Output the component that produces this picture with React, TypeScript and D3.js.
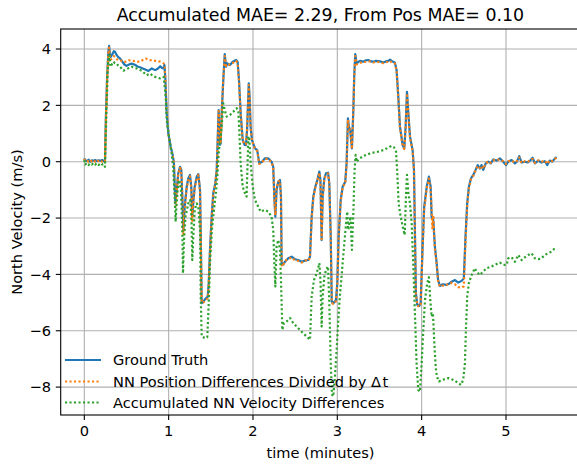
import React from "react";
import * as d3 from "d3";

const TITLE = "Accumulated MAE= 2.29, From Pos MAE= 0.10";
const X_LABEL = "time (minutes)";
const Y_LABEL = "North Velocity (m/s)";
const X_TICKS = [0, 1, 2, 3, 4, 5];
const Y_TICKS = [-8, -6, -4, -2, 0, 2, 4];
const SERIES_NAMES = [
  "Ground Truth",
  "NN Position Differences Divided by ",
  "Accumulated NN Velocity Differences",
];

const groundTruth: [number, number][] = [
  [0.0,0.12],[0.01,0.05],[0.03,0.02],[0.05,0.07],[0.07,0.0],[0.09,0.05],[0.11,0.03],[0.13,0.06],[0.15,0.02],[0.17,0.05],[0.19,0.03],[0.21,0.06],[0.23,0.02],[0.245,0.05],[0.255,1.5],[0.27,3.0],[0.285,3.9],[0.294,4.11],[0.303,3.85],[0.313,3.72],[0.33,3.8],[0.35,3.92],[0.364,3.9],[0.38,3.8],[0.4,3.72],[0.423,3.67],[0.45,3.55],[0.475,3.45],[0.5,3.4],[0.53,3.45],[0.56,3.48],[0.6,3.44],[0.63,3.38],[0.66,3.35],[0.7,3.3],[0.73,3.26],[0.76,3.22],[0.8,3.31],[0.84,3.25],[0.87,3.3],[0.9,3.39],[0.92,3.33],[0.94,3.31],[0.95,3.43],[0.96,3.0],[0.977,1.72],[0.996,1.0],[1.024,0.53],[1.048,0.24],[1.063,-0.06],[1.079,-1.48],[1.095,-1.0],[1.114,-0.41],[1.135,-0.18],[1.15,-0.29],[1.162,-1.24],[1.174,-2.42],[1.19,-1.6],[1.214,-0.89],[1.233,-0.59],[1.253,-0.47],[1.268,-0.89],[1.28,-1.95],[1.293,-1.4],[1.309,-0.89],[1.333,-0.53],[1.352,-0.44],[1.372,-1.0],[1.38,-2.42],[1.392,-5.02],[1.411,-4.96],[1.443,-4.84],[1.463,-4.79],[1.475,-4.31],[1.49,-3.13],[1.51,-1.95],[1.529,-1.12],[1.553,-0.77],[1.57,-0.29],[1.585,1.12],[1.593,1.83],[1.6,1.12],[1.608,0.6],[1.617,0.65],[1.629,1.72],[1.648,2.9],[1.665,3.82],[1.68,3.37],[1.695,3.49],[1.727,3.43],[1.76,3.55],[1.8,3.61],[1.818,3.55],[1.834,2.9],[1.854,1.72],[1.878,0.77],[1.9,0.6],[1.917,0.59],[1.93,1.12],[1.95,2.78],[1.96,2.3],[1.972,1.24],[1.988,0.77],[2.024,0.47],[2.05,0.41],[2.075,-0.06],[2.107,0.0],[2.142,0.12],[2.18,0.12],[2.22,0.0],[2.24,-0.18],[2.253,-1.24],[2.265,-1.95],[2.28,-1.0],[2.3,-0.71],[2.32,-0.65],[2.332,-1.24],[2.34,-3.6],[2.352,-3.66],[2.38,-3.55],[2.418,-3.43],[2.458,-3.37],[2.498,-3.46],[2.537,-3.49],[2.577,-3.55],[2.616,-3.51],[2.656,-3.49],[2.676,-3.37],[2.696,-1.95],[2.715,-1.24],[2.739,-0.89],[2.763,-0.65],[2.787,-0.35],[2.8,-0.65],[2.814,-2.78],[2.826,-1.24],[2.846,-0.59],[2.866,-0.41],[2.89,-0.39],[2.905,-0.77],[2.922,-2.66],[2.934,-4.96],[2.952,-5.02],[2.972,-4.96],[2.984,-4.9],[3.0,-4.31],[3.016,-2.66],[3.04,-1.36],[3.063,-0.89],[3.094,-0.71],[3.11,-0.06],[3.126,1.54],[3.138,1.24],[3.153,1.12],[3.173,0.47],[3.19,1.83],[3.2,3.01],[3.213,3.82],[3.229,3.49],[3.268,3.58],[3.308,3.55],[3.34,3.6],[3.367,3.61],[3.4,3.56],[3.426,3.55],[3.46,3.58],[3.486,3.57],[3.52,3.55],[3.545,3.52],[3.575,3.56],[3.604,3.58],[3.625,3.62],[3.644,3.58],[3.683,3.51],[3.703,3.25],[3.723,2.3],[3.743,1.24],[3.775,0.59],[3.794,0.47],[3.81,1.24],[3.826,2.48],[3.842,1.72],[3.862,0.89],[3.893,0.41],[3.909,-0.29],[3.92,-2.42],[3.932,-4.67],[3.948,-5.08],[3.972,-5.12],[3.988,-5.02],[4.007,-3.37],[4.03,-1.6],[4.06,-0.89],[4.086,-0.53],[4.107,-0.89],[4.118,-1.95],[4.138,-2.07],[4.157,-3.01],[4.178,-3.6],[4.195,-4.2],[4.216,-4.41],[4.25,-4.35],[4.296,-4.37],[4.33,-4.32],[4.355,-4.26],[4.395,-4.2],[4.434,-4.29],[4.474,-4.23],[4.5,-4.14],[4.52,-2.66],[4.54,-1.48],[4.56,-0.89],[4.585,-0.59],[4.612,-0.47],[4.64,-0.29],[4.664,-0.12],[4.69,-0.24],[4.71,-0.12],[4.73,-0.29],[4.76,-0.06],[4.79,0.0],[4.82,-0.06],[4.85,0.08],[4.89,0.04],[4.928,0.12],[4.967,0.0],[5.0,-0.12],[5.027,0.0],[5.067,0.06],[5.106,-0.06],[5.13,0.0],[5.157,0.2],[5.186,-0.03],[5.225,0.0],[5.26,-0.03],[5.29,0.05],[5.316,0.14],[5.343,-0.06],[5.382,0.04],[5.42,-0.03],[5.46,0.02],[5.49,-0.12],[5.52,0.04],[5.55,0.0],[5.58,0.12],[5.6,0.16],
];

const fromPosition: [number, number][] = [
  [0.0,0.1],[0.01,0.02],[0.03,0.05],[0.05,0.0],[0.07,0.06],[0.09,0.01],[0.11,0.05],[0.13,0.0],[0.15,0.06],[0.17,0.02],[0.19,0.05],[0.21,0.0],[0.23,0.05],[0.245,0.02],[0.255,1.4],[0.27,2.9],[0.285,3.85],[0.294,4.05],[0.303,3.7],[0.313,3.62],[0.33,3.68],[0.35,3.75],[0.364,3.72],[0.38,3.66],[0.4,3.6],[0.423,3.61],[0.45,3.56],[0.475,3.54],[0.5,3.55],[0.53,3.6],[0.56,3.58],[0.6,3.57],[0.63,3.55],[0.66,3.55],[0.7,3.62],[0.73,3.66],[0.76,3.61],[0.8,3.6],[0.84,3.58],[0.87,3.57],[0.9,3.55],[0.92,3.52],[0.94,3.49],[0.95,3.45],[0.96,3.0],[0.977,1.75],[0.996,1.02],[1.024,0.5],[1.048,0.2],[1.063,-0.1],[1.079,-1.6],[1.095,-1.05],[1.114,-0.45],[1.135,-0.22],[1.15,-0.35],[1.162,-1.3],[1.174,-2.6],[1.19,-1.7],[1.214,-0.95],[1.233,-0.65],[1.253,-0.52],[1.268,-0.95],[1.28,-2.1],[1.293,-1.45],[1.309,-0.95],[1.333,-0.58],[1.352,-0.48],[1.372,-1.05],[1.38,-2.5],[1.392,-5.0],[1.411,-5.0],[1.443,-4.9],[1.463,-4.85],[1.475,-4.4],[1.49,-3.2],[1.51,-2.0],[1.529,-1.18],[1.553,-0.8],[1.57,-0.3],[1.585,1.05],[1.593,1.8],[1.6,1.1],[1.608,0.62],[1.617,0.7],[1.629,1.75],[1.648,2.95],[1.665,3.75],[1.68,3.4],[1.695,3.45],[1.727,3.45],[1.76,3.5],[1.8,3.58],[1.818,3.5],[1.834,2.85],[1.854,1.7],[1.878,0.75],[1.9,0.62],[1.917,0.62],[1.93,1.15],[1.95,2.72],[1.96,2.25],[1.972,1.2],[1.988,0.75],[2.024,0.45],[2.05,0.38],[2.075,-0.08],[2.107,-0.02],[2.142,0.1],[2.18,0.1],[2.22,-0.02],[2.24,-0.2],[2.253,-1.3],[2.265,-1.9],[2.28,-0.95],[2.3,-0.7],[2.32,-0.68],[2.332,-1.3],[2.34,-3.65],[2.352,-3.72],[2.38,-3.52],[2.418,-3.45],[2.458,-3.4],[2.498,-3.5],[2.537,-3.52],[2.577,-3.58],[2.616,-3.5],[2.656,-3.52],[2.676,-3.4],[2.696,-2.0],[2.715,-1.3],[2.739,-0.92],[2.763,-0.68],[2.787,-0.4],[2.8,-0.7],[2.814,-2.75],[2.826,-1.3],[2.846,-0.62],[2.866,-0.45],[2.89,-0.42],[2.905,-0.8],[2.922,-2.7],[2.934,-5.0],[2.952,-5.05],[2.972,-5.0],[2.984,-4.95],[3.0,-4.35],[3.016,-2.7],[3.04,-1.4],[3.063,-0.92],[3.094,-0.75],[3.11,-0.1],[3.126,1.5],[3.138,1.2],[3.153,1.1],[3.173,0.45],[3.19,1.8],[3.2,2.95],[3.213,3.75],[3.229,3.45],[3.268,3.52],[3.308,3.52],[3.34,3.55],[3.367,3.57],[3.4,3.55],[3.426,3.52],[3.46,3.55],[3.486,3.54],[3.52,3.52],[3.545,3.5],[3.575,3.53],[3.604,3.55],[3.625,3.58],[3.644,3.52],[3.683,3.48],[3.703,3.2],[3.723,2.25],[3.743,1.2],[3.775,0.55],[3.794,0.45],[3.81,1.2],[3.826,2.42],[3.842,1.7],[3.862,0.85],[3.893,0.38],[3.909,-0.32],[3.92,-2.5],[3.932,-4.7],[3.948,-5.1],[3.972,-5.15],[3.988,-5.05],[4.007,-3.45],[4.03,-1.7],[4.06,-0.95],[4.086,-0.6],[4.107,-1.0],[4.118,-1.7],[4.128,-2.4],[4.138,-1.9],[4.148,-2.6],[4.157,-3.1],[4.178,-3.65],[4.195,-4.25],[4.216,-4.43],[4.25,-4.4],[4.296,-4.37],[4.33,-4.33],[4.355,-4.3],[4.395,-4.35],[4.434,-4.45],[4.474,-4.47],[4.5,-4.42],[4.52,-2.8],[4.54,-1.55],[4.56,-0.95],[4.585,-0.62],[4.612,-0.5],[4.64,-0.3],[4.664,-0.15],[4.69,-0.22],[4.71,-0.15],[4.73,-0.25],[4.76,-0.08],[4.79,0.02],[4.82,-0.04],[4.85,0.05],[4.89,0.06],[4.928,0.08],[4.967,0.02],[5.0,-0.08],[5.027,0.02],[5.067,0.04],[5.106,-0.03],[5.13,0.02],[5.157,0.15],[5.186,-0.05],[5.225,0.02],[5.26,0.0],[5.29,0.06],[5.316,0.1],[5.343,-0.04],[5.382,0.05],[5.42,0.0],[5.46,0.04],[5.49,-0.08],[5.52,0.05],[5.55,0.02],[5.58,0.1],[5.6,0.14],
];

const accumulated: [number, number][] = [
  [0.0,0.06],[0.01,-0.1],[0.03,-0.05],[0.05,-0.12],[0.07,-0.06],[0.09,-0.1],[0.11,-0.04],[0.13,-0.1],[0.15,-0.06],[0.17,-0.12],[0.19,-0.05],[0.21,-0.1],[0.23,-0.08],[0.245,-0.18],[0.26,1.5],[0.275,3.0],[0.284,3.49],[0.297,3.78],[0.31,3.37],[0.325,3.45],[0.343,3.55],[0.364,3.5],[0.384,3.49],[0.4,3.42],[0.423,3.37],[0.445,3.3],[0.463,3.23],[0.5,3.28],[0.53,3.33],[0.56,3.37],[0.59,3.34],[0.62,3.31],[0.65,3.27],[0.68,3.23],[0.71,3.15],[0.74,3.07],[0.78,3.13],[0.81,3.05],[0.84,3.01],[0.87,2.98],[0.9,2.96],[0.92,2.99],[0.94,3.01],[0.955,2.6],[0.965,2.3],[0.977,1.48],[1.01,0.77],[1.036,0.3],[1.056,-0.29],[1.072,-1.24],[1.083,-2.13],[1.095,-1.48],[1.11,-0.89],[1.126,-0.65],[1.146,-1.0],[1.162,-2.42],[1.17,-3.96],[1.18,-2.9],[1.2,-1.95],[1.233,-1.48],[1.256,-1.36],[1.27,-1.95],[1.28,-3.49],[1.292,-2.66],[1.309,-1.71],[1.333,-1.48],[1.352,-1.6],[1.372,-2.42],[1.38,-4.79],[1.392,-6.2],[1.43,-6.26],[1.458,-6.23],[1.475,-5.02],[1.49,-3.6],[1.513,-2.42],[1.537,-1.71],[1.56,-1.12],[1.577,-0.53],[1.596,0.41],[1.612,0.77],[1.629,1.24],[1.648,2.07],[1.665,1.83],[1.688,1.6],[1.727,1.66],[1.766,1.77],[1.806,1.9],[1.826,1.83],[1.838,1.12],[1.854,-0.06],[1.878,-0.89],[1.905,-1.12],[1.924,-1.24],[1.945,0.9],[1.956,0.8],[1.972,-0.06],[1.997,-0.89],[2.024,-1.36],[2.063,-1.6],[2.09,-1.77],[2.142,-1.71],[2.18,-1.77],[2.22,-1.95],[2.24,-2.42],[2.253,-3.6],[2.265,-4.43],[2.28,-3.01],[2.3,-2.78],[2.32,-3.13],[2.332,-4.2],[2.348,-5.97],[2.367,-5.73],[2.4,-5.67],[2.44,-5.55],[2.478,-5.73],[2.537,-5.91],[2.596,-6.09],[2.656,-6.26],[2.676,-6.32],[2.696,-4.79],[2.723,-4.2],[2.755,-3.96],[2.787,-3.6],[2.8,-4.2],[2.814,-5.85],[2.826,-4.79],[2.846,-4.08],[2.866,-3.84],[2.89,-3.72],[2.905,-5.02],[2.922,-7.15],[2.937,-8.27],[2.952,-8.33],[2.972,-7.62],[2.992,-6.68],[3.01,-5.73],[3.03,-4.79],[3.063,-3.6],[3.09,-2.66],[3.118,-1.77],[3.13,-2.42],[3.142,-2.19],[3.158,-1.95],[3.173,-3.13],[3.19,-1.83],[3.205,-0.29],[3.217,0.24],[3.229,0.0],[3.268,0.12],[3.308,0.2],[3.367,0.27],[3.426,0.32],[3.486,0.36],[3.545,0.41],[3.604,0.5],[3.644,0.56],[3.672,0.51],[3.696,0.36],[3.711,-0.41],[3.727,-1.48],[3.751,-1.95],[3.775,-2.3],[3.799,-2.6],[3.814,-1.24],[3.826,-0.47],[3.842,-1.12],[3.862,-1.48],[3.881,-2.19],[3.9,-3.6],[3.92,-5.38],[3.94,-7.15],[3.96,-8.1],[3.98,-8.16],[4.0,-7.15],[4.02,-5.97],[4.04,-4.9],[4.066,-4.31],[4.086,-4.1],[4.1,-4.79],[4.118,-5.5],[4.134,-5.38],[4.15,-6.44],[4.166,-7.27],[4.18,-7.62],[4.206,-7.8],[4.237,-7.74],[4.276,-7.72],[4.316,-7.68],[4.355,-7.72],[4.395,-7.77],[4.434,-7.86],[4.466,-7.92],[4.493,-7.74],[4.513,-7.15],[4.525,-5.97],[4.54,-4.79],[4.56,-4.31],[4.593,-4.02],[4.63,-3.78],[4.652,-3.9],[4.69,-4.02],[4.73,-3.9],[4.77,-3.78],[4.83,-3.72],[4.89,-3.63],[4.928,-3.58],[4.967,-3.66],[5.008,-3.66],[5.027,-3.43],[5.067,-3.39],[5.106,-3.55],[5.145,-3.31],[5.186,-3.49],[5.225,-3.39],[5.264,-3.31],[5.304,-3.25],[5.343,-3.43],[5.382,-3.46],[5.42,-3.43],[5.46,-3.31],[5.5,-3.25],[5.54,-3.19],[5.57,-3.1],[5.6,-3.07],
];

const COLORS = ["#1f77b4", "#ff7f0e", "#2ca02c"];
const FONT = "'DejaVu Sans', sans-serif";

export default function App() {
  const W = 577, H = 464;
  const left = 60.7, right = 580.2, top = 29, bottom = 415;
  const x = d3.scaleLinear().domain([-0.28, 5.88]).range([left, right]);
  const y = d3.scaleLinear().domain([-8.99, 4.71]).range([bottom, top]);
  const line = d3.line<[number, number]>().x((d) => x(d[0])).y((d) => y(d[1]));
  const series = [groundTruth, fromPosition, accumulated];
  const dash = [null, "2.1 2.4", "2.1 2.4"];
  const legendY = [360, 381.5, 402.5];
  const FS = 14.6;

  return (
    <svg width={W} height={H} style={{ position: "absolute", left: 0, top: 0, background: "#fff" }} fontFamily={FONT}>
      <rect x={0} y={0} width={W} height={H} fill="#fff" />
      <defs>
        <clipPath id="plotclip">
          <rect x={left} y={top} width={right - left} height={bottom - top} />
        </clipPath>
      </defs>
      <g stroke="#b0b0b0" strokeWidth={1.1}>
        {X_TICKS.map((t) => (
          <line key={"gx" + t} x1={x(t)} x2={x(t)} y1={top} y2={bottom} />
        ))}
        {Y_TICKS.map((t) => (
          <line key={"gy" + t} x1={left} x2={right} y1={y(t)} y2={y(t)} />
        ))}
      </g>
      <g clipPath="url(#plotclip)" fill="none">
        {series.map((s, i) => (
          <path
            key={"s" + i}
            d={line(s) || ""}
            stroke={COLORS[i]}
            strokeWidth={2.2}
            strokeDasharray={dash[i] || undefined}
            strokeLinejoin="round"
          />
        ))}
      </g>
      <rect x={left} y={top} width={right - left} height={bottom - top} fill="none" stroke="#000" strokeWidth={1.1} />
      <g stroke="#000" strokeWidth={1.1}>
        {X_TICKS.map((t) => (
          <line key={"tx" + t} x1={x(t)} x2={x(t)} y1={bottom} y2={bottom + 4.9} />
        ))}
        {Y_TICKS.map((t) => (
          <line key={"ty" + t} x1={left} x2={left - 4.9} y1={y(t)} y2={y(t)} />
        ))}
      </g>
      <g fontSize={FS} fill="#000">
        {X_TICKS.map((t) => (
          <text key={"lx" + t} x={x(t)} y={436} textAnchor="middle">{String(t)}</text>
        ))}
        {Y_TICKS.map((t) => (
          <text key={"ly" + t} x={51} y={y(t) + 5.2} textAnchor="end">{t < 0 ? "\u2212" + Math.abs(t) : String(t)}</text>
        ))}
        <text x={(left + right) / 2} y={457.5} textAnchor="middle">{X_LABEL}</text>
        <text transform={`translate(22, ${(top + bottom) / 2}) rotate(-90)`} textAnchor="middle">{Y_LABEL}</text>
      </g>
      <text x={(left + right) / 2} y={21} textAnchor="middle" fontSize={17.4} fill="#000">{TITLE}</text>
      <g fontSize={FS} fill="#000">
        {SERIES_NAMES.map((name, i) => (
          <g key={"leg" + i}>
            <line x1={65} x2={101} y1={legendY[i]} y2={legendY[i]} stroke={COLORS[i]} strokeWidth={2.2} strokeDasharray={dash[i] || undefined} />
            <text x={113} y={legendY[i] + 5.2}>
              {name}
              {i === 1 ? (
                <>
                  <tspan>{"\u0394"}</tspan>
                  <tspan dx={1.5}>t</tspan>
                </>
              ) : null}
            </text>
          </g>
        ))}
      </g>
    </svg>
  );
}
